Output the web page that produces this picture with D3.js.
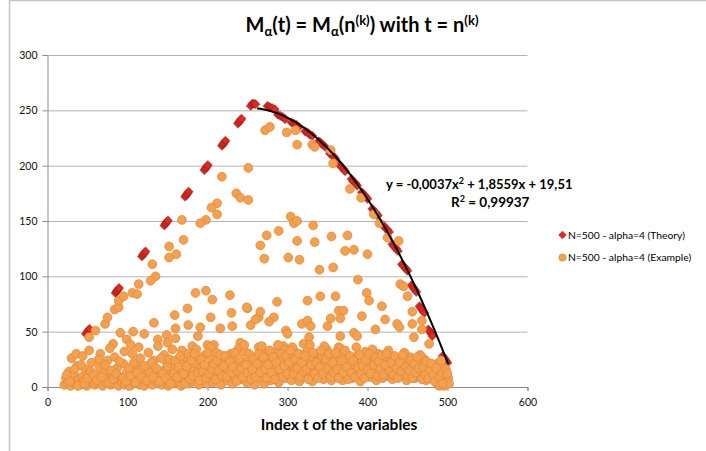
<!DOCTYPE html>
<html>
<head>
  <meta charset="utf-8">
  <script src="https://d3js.org/d3.v7.min.js"></script>
  <style>
    body { margin: 0; background: #fff; }
    text { font-family: Lato, "Open Sans", sans-serif; fill: #000; }
    .tick text { font-size: 10.5px; fill: #111; }
    .grid line { stroke: #b3b3b3; stroke-width: 1; }
    .grid path { display: none; }
  </style>
</head>
<body>
<div id="chartArea"></div>
<script>
  var w = 706, h = 451;

  var xTicks = [0, 100, 200, 300, 400, 500, 600];
  var yTicks = [0, 50, 100, 150, 200, 250, 300];

  var theoryName = "N=500 - alpha=4 (Theory)";
  var exampleName = "N=500 - alpha=4 (Example)";

  // theory points: short clusters along y = t, then along the falling curve
  var theory = [
    [48,48],[49.5,49.5],[51,51],[52.5,52.5],
    [85,85],[86.5,86.5],[88,88],[89.5,89.5],
    [118,118],[119.5,119.5],[121,121],[122.5,122.5],
    [146,146],[147.5,147.5],[149,149],[150.5,150.5],
    [172,172],[173.5,173.5],[175,175],[176.5,176.5],
    [196,196],[197.5,197.5],[199,199],[200.5,200.5],
    [218,218],[219.5,219.5],[221,221],[222.5,222.5],
    [238,238],[239.5,239.5],[241,241],[242.5,242.5],
    [254,254],[256,256],[258,256],[260,255.5],
    [275,254],[278,253],[281,252],[284,251],
    [288,246],[291,245],[294,244],[297,242],
    [305,239],[308,238],[311,237],[314,235],
    [322,231],[325,230],[328,228],[331,227],
    [339,222],[341,221],[344,219],[347,217],
    [353,211],[355,210],[358,208],[360,206],
    [365,201],[367,199],[370,197],[372,195],
    [380,188],[382,186],[385,184],[387,182],
    [393,176],[395,174],[398,172],[400,170],
    [406,161],[408,159],[411,157],[413,155],
    [420,146],[422,144],[425,142],[427,140],
    [431,129],[433,127],[436,125],[438,123],
    [443,111],[445,109],[448,107],[450,105],
    [455,92],[457,90],[459,88],[461,86],
    [465,73],[467,71],[469,69],[471,67],
    [476,52],[478,50],[480,48],[481,46],
    [494,28],[496,26],[498,24],[500,22]
  ];

  // example points
  var example = [
    // scattered upper points
    [272,232],[278,235],[299,230],[310,232],[312,219],[331,219],[334,217],[354,214],[357,202],
    [251,198],[218,190],[236,175],[241,171],[251,169],[212,166],[205,162],[212,156],[198,151],
    [191,148],[168,151],[170,133],[152,127],[161,120],[152,117],[131,111],[135,100],
    [378,179],[392,171],[408,156],[415,148],[425,135],[439,132],
    [304,154],[308,148],[312,150],[332,146],[289,141],[274,137],[312,132],[334,131],[355,136],
    [375,137],[266,128],[372,123],[383,124],[400,120],[271,116],[301,117],[315,115],[340,106],
    [357,108],[388,97],[441,93],[399,85],[402,78],[418,73],[445,91],[450,82],
    // middle band 40 - 100
    [52,45],[60,51],[72,57],[75,63],[84,70],[89,72],[89,78],[95,82],[106,85],[112,84],[114,93],
    [129,96],[185,85],[198,87],[206,79],[228,83],[250,71],[175,71],[159,65],[204,63],[230,67],
    [133,58],[176,56],[160,53],[191,54],[216,53],[231,55],[254,56],[264,63],[107,50],[121,48],
    [91,49],[99,43],[104,38],[82,39],[138,43],[149,47],[150,40],[160,44],[181,37],[188,46],
    [200,38],[208,38],[241,40],[264,36],[287,77],[325,78],[341,82],[360,82],[249,72],[266,68],
    [260,61],[283,63],[277,59],[318,57],[325,60],[329,55],[350,55],[354,62],[364,69],[370,69],
    [366,62],[393,64],[410,52],[422,61],[437,57],[440,54],[456,68],[456,57],[468,60],[468,52],
    [458,45],[477,39],[298,51],[300,48],[327,45],[366,46],[383,49],[387,46],[295,37],[320,39],
    [364,36],
    // dense band near the bottom
    [21,2],[23,8],[25,4],[27,14],[29,1],[31,6],[33,11],[35,3],[37,19],[39,7],[30,26],[36,30],
    [41,2],[43,9],[45,5],[47,16],[49,1],[51,12],[53,4],[55,22],[57,7],[59,2],[44,28],[52,33],
    [61,10],[63,3],[65,18],[67,6],[69,1],[71,13],[73,4],[75,24],[77,8],[79,2],[66,30],[78,35],
    [81,11],[83,3],[85,6],[87,17],[89,1],[91,9],[93,4],[95,21],[97,2],[99,13],[84,27],[96,32],
    [101,5],[103,1],[105,14],[107,7],[109,3],[111,20],[113,9],[115,2],[117,16],[119,6],[106,30],[114,36],
    [121,1],[123,11],[125,4],[127,18],[129,8],[131,2],[133,24],[135,6],[137,13],[139,3],[126,31],[138,37],
    [141,9],[143,2],[145,15],[147,5],[149,22],[151,1],[153,11],[155,6],[157,18],[159,3],[146,29],[156,34],
    [161,4],[163,13],[165,8],[167,1],[169,20],[171,6],[173,27],[175,10],[177,3],[179,16],[168,33],
    [181,5],[183,14],[185,9],[187,22],[189,2],[191,17],[193,7],[195,28],[197,12],[199,3],[186,34],
    [201,18],[203,8],[205,25],[207,4],[209,14],[211,31],[213,10],[215,20],[217,2],[219,27],[204,36],
    [221,12],[223,22],[225,6],[227,17],[229,30],[231,3],[233,25],[235,9],[237,19],[239,35],[226,14],
    [241,7],[243,23],[245,13],[247,32],[249,4],[251,18],[253,27],[255,10],[257,21],[259,2],[246,38],
    [261,15],[263,26],[265,8],[267,33],[269,19],[271,3],[273,24],[275,12],[277,29],[279,6],[268,37],
    [281,20],[283,10],[285,31],[287,16],[289,4],[291,25],[293,13],[295,34],[297,8],[299,21],[288,38],
    [301,14],[303,27],[305,6],[307,19],[309,32],[311,10],[313,23],[315,5],[317,16],[319,29],[306,36],
    [321,9],[323,21],[325,33],[327,13],[329,26],[331,5],[333,18],[335,30],[337,11],[339,24],[328,38],
    [341,15],[343,28],[345,7],[347,20],[349,34],[351,12],[353,25],[355,6],[357,17],[359,29],[346,37],
    [361,10],[363,22],[365,14],[367,31],[369,6],[371,19],[373,27],[375,11],[377,24],[379,16],[366,35],
    [381,8],[383,20],[385,13],[387,28],[389,17],[391,5],[393,23],[395,14],[397,32],[399,10],[386,36],
    [401,18],[403,9],[405,26],[407,14],[409,21],[411,6],[413,30],[415,12],[417,19],[419,8],[406,34],
    [421,15],[423,24],[425,10],[427,18],[429,28],[431,7],[433,21],[435,13],[437,26],[439,9],[426,33],
    [441,17],[443,11],[445,23],[447,14],[449,6],[451,20],[453,27],[455,12],[457,18],[459,8],[446,31],
    [461,15],[463,22],[465,9],[467,17],[469,12],[471,25],[473,6],[475,14],[477,19],[479,10],[466,29],
    [481,7],[483,16],[485,12],[487,21],[489,5],[491,14],[493,9],[495,18],[497,4],[499,11],[492,24],
    [500,6],[488,2],[496,1],[501,8],
    [24,11],[28,5],[34,16],[38,1],[42,20],[46,3],[50,8],[54,14],[58,11],[62,6],[64,25],[68,9],
    [72,20],[76,4],[80,15],[82,7],[86,12],[90,23],[94,8],[98,5],[102,17],[104,10],[108,22],[110,4],
    [112,13],[116,26],[118,9],[122,19],[124,6],[128,13],[130,22],[132,9],[136,17],[140,5],[142,26],
    [144,12],[148,8],[150,18],[152,25],[154,3],[158,12],[160,24],[162,9],[164,18],[166,28],[170,12],
    [172,3],[174,19],[176,30],[178,7],[180,24],[182,10],[184,30],[188,13],[190,6],[192,25],[194,14],
    [196,20],[198,8],[200,31],[202,12],[206,16],[208,21],[210,7],[212,24],[214,15],[216,29],[218,10],
    [220,19],[222,28],[224,9],[228,23],[230,13],[232,18],[234,31],[236,5],[238,14],[240,26],[242,16],
    [244,9],[248,20],[250,13],[252,30],[254,7],[256,16],[258,26],[260,9],[262,21],[264,30],[266,13],
    [270,27],[272,16],[274,8],[276,20],[278,33],[280,13],[282,27],[284,7],[286,22],[290,16],[292,30],
    [294,9],[296,19],[298,28],[300,12],[302,22],[304,33],[308,12],[310,25],[312,17],[314,30],[316,9],
    [318,22],[320,14],[322,28],[324,16],[326,7],[330,20],[332,31],[334,12],[336,22],[338,8],[340,18],
    [342,33],[344,12],[348,25],[350,17],[352,30],[354,9],[356,22],[358,13],[360,31],[362,16],[364,8],
    [368,24],[370,13],[372,33],[374,18],[376,7],[378,28],[380,13],[382,24],[384,9],[388,18],[390,29],
    [392,12],[394,19],[396,8],[398,24],[400,15],[402,30],[404,12],[408,20],[410,27],[412,10],[414,23],
    [416,16],[418,29],[420,11],[422,20],[424,30],[428,14],[430,22],[432,11],[434,28],[436,17],[438,8],
    [440,22],[442,14],[444,29],[448,18],[450,10],[452,15],[454,24],[456,8],[458,21],[460,13],[462,27],
    [464,17],[468,7],[470,18],[472,11],[474,23],[476,8],[478,15],[480,21],[482,11],[484,5],[486,17],
    [490,9],[494,13],[498,16],[500,12],[502,3],[490,1],[494,3]
  ];

  // polynomial trendline as printed on the chart: a*x^2 + b*x + c
  var trendCoef = [-0.0037, 1.8559, 19.51];
  var trendRange = [262, 501];

  var svg = d3.select("#chartArea").append("svg")
      .attr("width", w).attr("height", h);

  // chart frame
  svg.append("rect")
      .attr("x", 9.5).attr("y", 0.5).attr("width", 720).attr("height", 470)
      .attr("fill", "none").attr("stroke", "#c4c4c4").attr("stroke-width", 1.5);

  var xScale = d3.scaleLinear().domain([0, 600]).range([47.5, 527.5]);
  var yScale = d3.scaleLinear().domain([0, 300]).range([387, 55]);

  // horizontal grid
  svg.append("g")
      .attr("class", "grid")
      .attr("transform", "translate(" + xScale(0) + ",0)")
      .call(d3.axisRight(yScale).tickValues(yTicks.slice(1))
            .tickSize(xScale(600) - xScale(0)).tickFormat(""));

  var yAxis = svg.append("g")
      .attr("transform", "translate(" + xScale(0) + ",0)")
      .call(d3.axisLeft(yScale).tickValues(yTicks).tickSize(5).tickPadding(5));
  var xAxis = svg.append("g")
      .attr("transform", "translate(0," + yScale(0) + ")")
      .call(d3.axisBottom(xScale).tickValues(xTicks).tickSize(4).tickPadding(8));
  [xAxis, yAxis].forEach(function(g) {
    g.select(".domain").attr("stroke", "#8c8c8c");
    g.selectAll(".tick line").attr("stroke", "#8c8c8c");
  });

  var diamond = function(r) {
    return "M0," + (-r) + "L" + r + ",0L0," + r + "L" + (-r) + ",0Z";
  };

  svg.append("g").selectAll("path")
      .data(theory).enter().append("path")
      .attr("d", diamond(4.2))
      .attr("transform", function(d) { return "translate(" + xScale(d[0]) + "," + yScale(d[1]) + ")"; })
      .attr("fill", "#f0241b")
      .attr("stroke", "rgba(140,35,35,0.6)")
      .attr("stroke-width", 1.2);

  svg.append("g").selectAll("circle")
      .data(example).enter().append("circle")
      .attr("cx", function(d) { return xScale(d[0]); })
      .attr("cy", function(d) { return yScale(d[1]); })
      .attr("r", 4.4)
      .attr("fill", "#f5a04e")
      .attr("stroke", "#de8a3c")
      .attr("stroke-width", 0.8);

  // trendline
  var trendX = d3.range(trendRange[0], trendRange[1] + 0.5, 1);
  var trendLine = d3.line()
      .x(function(x) { return xScale(x); })
      .y(function(x) { return yScale(trendCoef[0] * x * x + trendCoef[1] * x + trendCoef[2]); })
      .curve(d3.curveBasis);
  svg.append("path")
      .datum(trendX)
      .attr("d", trendLine)
      .attr("fill", "none")
      .attr("stroke", "#000")
      .attr("stroke-width", 2);

  // title
  var title = svg.append("text")
      .attr("x", 362).attr("y", 32)
      .attr("text-anchor", "middle")
      .style("font-size", "20px").style("font-weight", "bold");
  title.append("tspan").text("M");
  title.append("tspan").attr("dy", 4).style("font-size", "13px").text("α");
  title.append("tspan").attr("dy", -4).text("(t) = M");
  title.append("tspan").attr("dy", 4).style("font-size", "13px").text("α");
  title.append("tspan").attr("dy", -4).text("(n");
  title.append("tspan").attr("dy", -7).style("font-size", "13px").text("(k)");
  title.append("tspan").attr("dy", 7).text(") with t = n");
  title.append("tspan").attr("dy", -7).style("font-size", "13px").text("(k)");

  // trendline label
  var eq = svg.append("text")
      .attr("x", 386).attr("y", 189)
      .style("font-size", "13px").style("font-weight", "bold");
  eq.append("tspan").text("y = -0,0037x");
  eq.append("tspan").attr("dy", -5).style("font-size", "9px").text("2");
  eq.append("tspan").attr("dy", 5).text(" + 1,8559x + 19,51");
  var r2 = svg.append("text")
      .attr("x", 451).attr("y", 207)
      .style("font-size", "13.5px").style("font-weight", "bold");
  r2.append("tspan").text("R");
  r2.append("tspan").attr("dy", -5).style("font-size", "9px").text("2");
  r2.append("tspan").attr("dy", 5).text(" = 0,99937");

  // legend
  svg.append("path")
      .attr("d", diamond(3.8))
      .attr("transform", "translate(562.5,235)")
      .attr("fill", "#f0241b").attr("stroke", "rgba(140,35,35,0.6)");
  svg.append("text").attr("x", 568).attr("y", 238.5)
      .style("font-size", "10.3px").text(theoryName);
  svg.append("circle")
      .attr("cx", 562.5).attr("cy", 257.5).attr("r", 3.6)
      .attr("fill", "#f5a04e").attr("stroke", "#de8a3c").attr("stroke-width", 0.8);
  svg.append("text").attr("x", 568).attr("y", 261)
      .style("font-size", "10.3px").text(exampleName);

  // axis title
  svg.append("text")
      .attr("x", 339).attr("y", 430)
      .attr("text-anchor", "middle")
      .style("font-size", "15.5px").style("font-weight", "bold")
      .text("Index t of the variables");
</script>
</body>
</html>
